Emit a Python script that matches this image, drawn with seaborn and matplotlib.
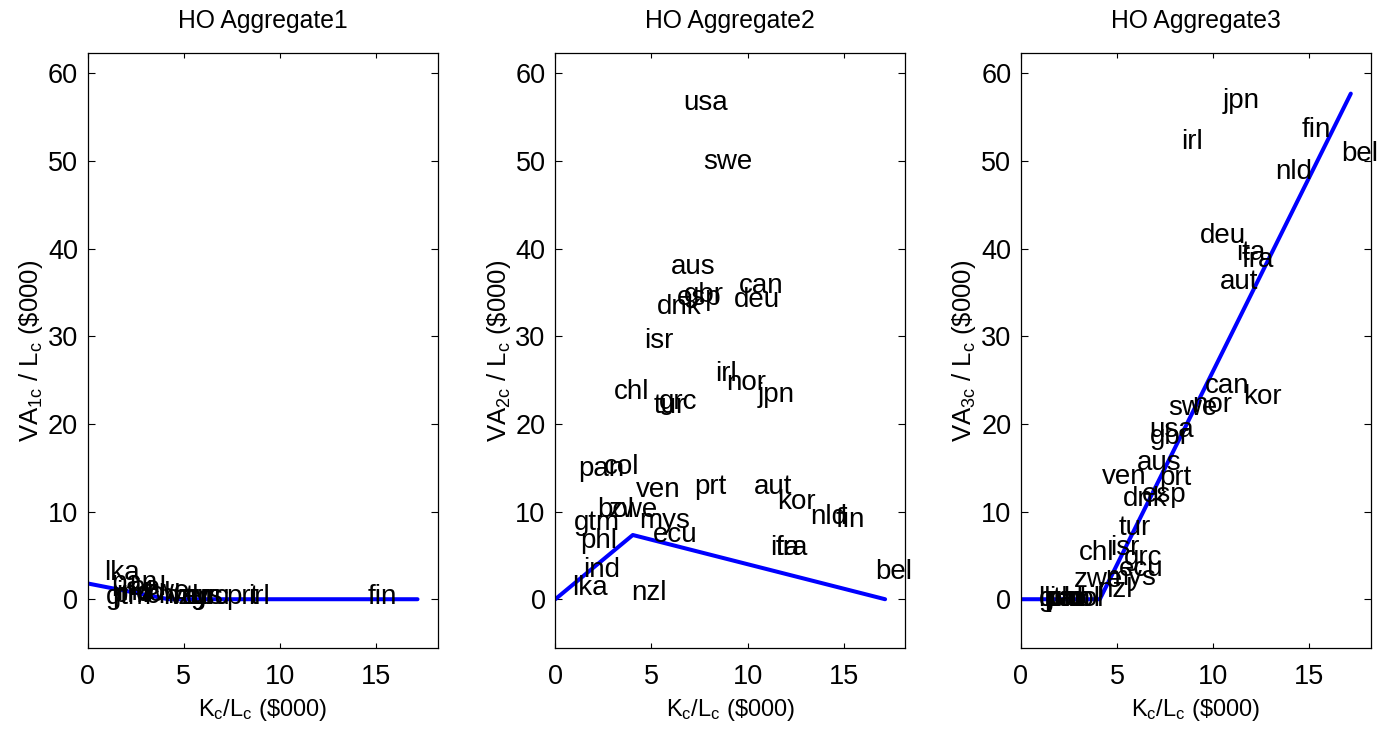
import numpy as np
import matplotlib
matplotlib.use("Agg")
import matplotlib.pyplot as plt
import seaborn as sns

# Country codes and capital per worker (K_c / L_c, $000)
countries = ["usa", "swe", "aus", "can", "gbr", "esp", "dnk", "deu", "isr", "irl",
             "nor", "jpn", "chl", "grc", "tur", "pan", "col", "ven", "prt", "aut",
             "kor", "nld", "fin", "bol", "zwe", "gtm", "mys", "ecu", "phl", "ita",
             "fra", "ind", "lka", "nzl", "bel"]
k_per_worker = [6.66, 7.68, 6.02, 9.57, 6.68, 6.30, 5.29, 9.31, 4.63, 8.32,
                8.88, 10.51, 3.02, 5.36, 5.10, 1.21, 2.51, 4.20, 7.20, 10.35,
                11.53, 13.23, 14.57, 2.17, 2.76, 0.94, 4.37, 5.08, 1.30, 11.19,
                11.45, 1.47, 0.87, 3.94, 16.65]

# Value added per worker in each aggregate ($000); nan = not produced
nan = np.nan
va_agg1 = [nan, nan, nan, nan, nan, nan, nan, nan, nan, 0.2,
           nan, nan, 0.4, 0.2, 0.2, 1.8, 0.6, 0.3, 0.2, nan,
           nan, nan, 0.2, 1.3, 0.8, 0.3, 0.2, 0.2, 0.5, nan,
           nan, 0.7, 3.0, 0.3, nan]
va_agg2 = [56.6, 49.9, 37.9, 35.7, 34.7, 34.4, 33.4, 34.1, 29.5, 25.7,
           24.7, 23.3, 23.7, 22.5, 22.0, 14.9, 15.1, 12.5, 12.8, 12.8,
           11.1, 9.4, 9.0, 10.2, 10.2, 8.7, 8.9, 7.3, 6.6, 5.9,
           5.9, 3.3, 1.3, 0.7, 3.1]
va_agg3 = [19.3, 21.8, 15.5, 24.3, 18.5, 11.9, 11.4, 41.4, 5.8, 52.2,
           22.2, 56.8, 5.3, 4.7, 8.1, 0.0, 0.0, 14.0, 13.8, 36.2,
           23.1, 48.7, 53.5, 0.0, 2.2, 0.0, 2.4, 3.5, 0.0, 39.5,
           38.7, 0.0, 0.0, 1.1, 50.8]

# Fitted piecewise-linear HO curves
fit_k1 = [0.0, 4.2, 17.15]
fit_va1 = [1.8, 0.0, 0.0]
fit_k2 = [0.0, 4.03, 17.15]
fit_va2 = [0.0, 7.33, 0.0]
fit_k3 = [0.0, 4.1, 17.15]
fit_va3 = [0.0, 0.0, 57.7]

titles = ["HO Aggregate1", "HO Aggregate2", "HO Aggregate3"]
x_ticks = [0, 5, 10, 15]
y_ticks = [0, 10, 20, 30, 40, 50, 60]

sns.set_style("white")
plt.rcParams["font.family"] = ["Liberation Sans", "DejaVu Sans"]
plt.rcParams["mathtext.fontset"] = "custom"
plt.rcParams["mathtext.rm"] = "Liberation Sans"
plt.rcParams["mathtext.it"] = "Liberation Sans"
plt.rcParams["mathtext.default"] = "regular"
for key in ["text.color", "axes.labelcolor", "xtick.color", "ytick.color",
            "axes.edgecolor"]:
    plt.rcParams[key] = "black"

W, H = 1380, 734
fig = plt.figure(figsize=(W / 100, H / 100), dpi=100)
lefts = [87.7, 555.3, 1021.0]

panels = [
    (va_agg1, fit_k1, fit_va1),
    (va_agg2, fit_k2, fit_va2),
    (va_agg3, fit_k3, fit_va3),
]

for i, (va, fk, fv) in enumerate(panels):
    ax = fig.add_axes([lefts[i] / W, 85.7 / H, 350 / W, 595 / H])
    sns.lineplot(x=fk, y=fv, ax=ax, color="#0000ff", linewidth=2.9,
                 sort=False, estimator=None)
    for name, k, v in zip(countries, k_per_worker, va):
        if np.isnan(v):
            continue
        ax.text(k, v, name, ha="left", va="center", fontsize=20, color="black")
    ax.set_xlim(0, 18.2)
    ax.set_ylim(-5.6, 62.3)
    ax.set_xticks(x_ticks)
    ax.set_yticks(y_ticks)
    ax.tick_params(axis="both", labelsize=19.5, direction="in",
                   top=True, right=True, bottom=True, left=True, width=0.8,
                   colors="black", labelcolor="black")
    ax.tick_params(axis="x", length=3.8, pad=11)
    ax.tick_params(axis="y", length=5, pad=7)
    for s in ax.spines.values():
        s.set_color("black")
        s.set_linewidth(0.9)
    ax.set_title(titles[i], fontsize=17.8, pad=18, color="black")
    ax.set_xlabel("K$_c$/L$_c$ (\\$000)", fontsize=17, labelpad=5, color="black")
    ax.set_ylabel("VA$_{%dc}$ / L$_c$ (\\$000)" % (i + 1), fontsize=18.5,
                  labelpad=2, color="black")

fig.savefig("out.png", dpi=100, facecolor="white")
